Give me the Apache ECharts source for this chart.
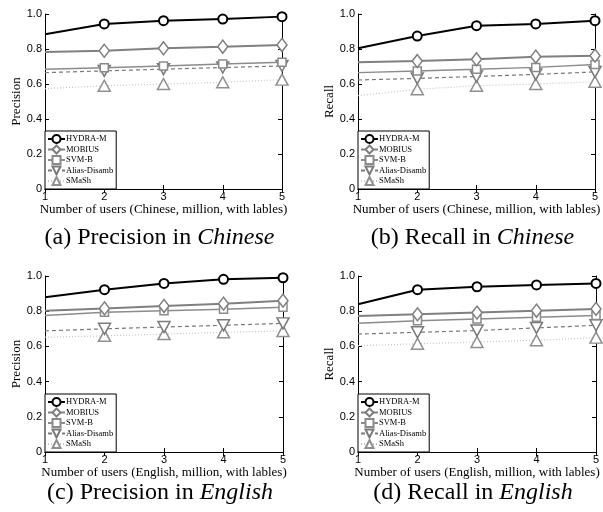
<!DOCTYPE html>
<html>
<head>
<meta charset="utf-8">
<script src="https://cdn.jsdelivr.net/npm/echarts@6/dist/echarts.min.js"></script>
<style>html,body{margin:0;padding:0;background:#fff;}#c{width:603px;height:512px;}</style>
</head>
<body>
<div id="c"></div>
<script>
const xs = [1, 2, 3, 4, 5];
const yTickLabels = ['0', '0.2', '0.4', '0.6', '0.8', '1.0'];
const seriesNames = ['HYDRA-M', 'MOBIUS', 'SVM-B', 'Alias-Disamb', 'SMaSh'];

// (a) Precision in Chinese
const pcHydra = [0.884, 0.943, 0.962, 0.971, 0.985];
const pcMobius = [0.783, 0.790, 0.804, 0.813, 0.823];
const pcSvm = [0.684, 0.693, 0.703, 0.714, 0.724];
const pcAlias = [0.665, 0.675, 0.685, 0.694, 0.703];
const pcSmash = [0.573, 0.590, 0.600, 0.610, 0.625];
// (b) Recall in Chinese
const rcHydra = [0.804, 0.874, 0.933, 0.943, 0.962];
const rcMobius = [0.724, 0.731, 0.741, 0.756, 0.762];
const rcSvm = [0.665, 0.674, 0.684, 0.695, 0.712];
const rcAlias = [0.623, 0.632, 0.643, 0.655, 0.669];
const rcSmash = [0.533, 0.570, 0.590, 0.600, 0.613];
// (c) Precision in English
const peHydra = [0.879, 0.922, 0.958, 0.981, 0.990];
const peMobius = [0.803, 0.816, 0.830, 0.843, 0.860];
const peSvm = [0.775, 0.794, 0.803, 0.811, 0.822];
const peAlias = [0.688, 0.700, 0.710, 0.720, 0.731];
const peSmash = [0.652, 0.660, 0.670, 0.680, 0.688];
// (d) Recall in English
const reHydra = [0.839, 0.922, 0.939, 0.949, 0.958];
const reMobius = [0.773, 0.782, 0.792, 0.803, 0.813];
const reSvm = [0.731, 0.746, 0.756, 0.765, 0.775];
const reAlias = [0.670, 0.680, 0.690, 0.705, 0.720];
const reSmash = [0.604, 0.615, 0.625, 0.635, 0.650];

const panels = [
  {yName: 'Precision', xName: 'Number of users (Chinese, million, with lables)', cap: ['(a) Precision in ', 'Chinese'], data: [pcHydra, pcMobius, pcSvm, pcAlias, pcSmash]},
  {yName: 'Recall', xName: 'Number of users (Chinese, million, with lables)', cap: ['(b) Recall in ', 'Chinese'], data: [rcHydra, rcMobius, rcSvm, rcAlias, rcSmash]},
  {yName: 'Precision', xName: 'Number of users (English, million, with lables)', cap: ['(c) Precision in ', 'English'], data: [peHydra, peMobius, peSvm, peAlias, peSmash]},
  {yName: 'Recall', xName: 'Number of users (English, million, with lables)', cap: ['(d) Recall in ', 'English'], data: [reHydra, reMobius, reSvm, reAlias, reSmash]}
];

const boxes = [
  {left: 45, top: 14, width: 237, height: 175, capY: 238},
  {left: 358, top: 14, width: 237, height: 175, capY: 238},
  {left: 45, top: 276, width: 238, height: 176, capY: 493},
  {left: 358, top: 276, width: 238, height: 176, capY: 493}
];

const styles = [
  {color: '#000000', line: '#000000', width: 2, type: 'solid', symbol: 'circle', size: 9, bw: 2},
  {color: '#7f7f7f', line: '#808080', width: 2, type: 'solid', symbol: 'diamond', size: [10, 13], bw: 1.5},
  {color: '#8a8a8a', line: '#8c8c8c', width: 1.5, type: 'solid', symbol: 'rect', size: 8, bw: 1.5},
  {color: '#7a7a7a', line: '#7a7a7a', width: 1.2, type: [4, 3], symbol: 'triangle', rotate: 180, size: [12, 11], bw: 1.5},
  {color: '#8f8f8f', line: '#c4c4c4', width: 1.2, type: [1, 2], symbol: 'triangle', size: [12, 11], bw: 1.5}
];

const serif = 'Liberation Serif, Times New Roman, serif';
const sans = 'Liberation Sans, Arial, sans-serif';

const grid = [], xAxis = [], yAxis = [], series = [], legend = [], graphic = [];
panels.forEach((p, gi) => {
  const b = boxes[gi];
  grid.push({left: b.left, top: b.top, width: b.width, height: b.height, containLabel: false});
  const axLine = {show: true, lineStyle: {color: '#000', width: 1}};
  const tick = {show: true, inside: true, length: 4, lineStyle: {color: '#000'}};
  xAxis.push({
    gridIndex: gi, type: 'value', min: 1, max: 5, interval: 1, position: 'bottom',
    axisLine: axLine, axisTick: tick, splitLine: {show: false},
    axisLabel: {color: '#000', fontSize: 11, fontFamily: sans, margin: 2},
    name: p.xName, nameLocation: 'middle', nameGap: 12,
    nameTextStyle: {color: '#000', fontSize: 13, fontFamily: serif}
  });
  xAxis.push({
    gridIndex: gi, type: 'value', min: 1, max: 5, interval: 1, position: 'top',
    axisLine: axLine, axisTick: tick, splitLine: {show: false}, axisLabel: {show: false}
  });
  yAxis.push({
    gridIndex: gi, type: 'value', min: 0, max: 1, interval: 0.2, position: 'left',
    axisLine: axLine, axisTick: tick, splitLine: {show: false},
    axisLabel: {color: '#000', fontSize: 11, fontFamily: sans, margin: 3,
      formatter: v => yTickLabels[Math.round(v / 0.2)]},
    name: p.yName, nameLocation: 'middle', nameGap: 22,
    nameTextStyle: {color: '#000', fontSize: 13, fontFamily: serif}
  });
  yAxis.push({
    gridIndex: gi, type: 'value', min: 0, max: 1, interval: 0.2, position: 'right',
    axisLine: axLine, axisTick: tick, splitLine: {show: false}, axisLabel: {show: false}
  });
  p.data.forEach((arr, si) => {
    const s = styles[si];
    series.push({
      type: 'line', name: seriesNames[si], xAxisIndex: gi * 2, yAxisIndex: gi * 2,
      data: arr.map((y, i) => i === 0 ? {value: [xs[i], y], symbol: 'none'} : [xs[i], y]),
      symbol: s.symbol, symbolSize: s.size, symbolRotate: s.rotate || 0, showAllSymbol: true,
      clip: false, z: 10 - si,
      lineStyle: {color: s.line, width: s.width, type: s.type},
      itemStyle: {color: '#ffffff', borderColor: s.color, borderWidth: s.bw, opacity: 1},
      emphasis: {disabled: true}, animation: false
    });
  });
  legend.push({
    orient: 'vertical', left: b.left, top: b.top + b.height - 58,
    itemWidth: 17, itemHeight: 10, itemGap: 0.5, padding: [3, 3, 3, 2],
    backgroundColor: '#fff', borderColor: '#000', borderWidth: 1, borderRadius: 0,
    textStyle: {fontSize: 8.5, fontFamily: serif, color: '#000', padding: [0, 0, 0, -4]},
    data: seriesNames, selectedMode: false, z: 20
  });
  graphic.push({
    type: 'text', x: b.left + b.width / 2 - 4, y: b.capY,
    style: {
      text: '{n|' + p.cap[0] + '}{i|' + p.cap[1] + '}',
      align: 'center', verticalAlign: 'middle',
      rich: {
        n: {fontSize: 24, fontFamily: serif, fill: '#000', color: '#000'},
        i: {fontSize: 24, fontFamily: serif, fontStyle: 'italic', fill: '#000', color: '#000'}
      }
    }
  });
});

const chart = echarts.init(document.getElementById('c'), null, {renderer: 'canvas'});
chart.setOption({animation: false, backgroundColor: '#fff', grid, xAxis, yAxis, series, legend, graphic});
</script>
</body>
</html>
